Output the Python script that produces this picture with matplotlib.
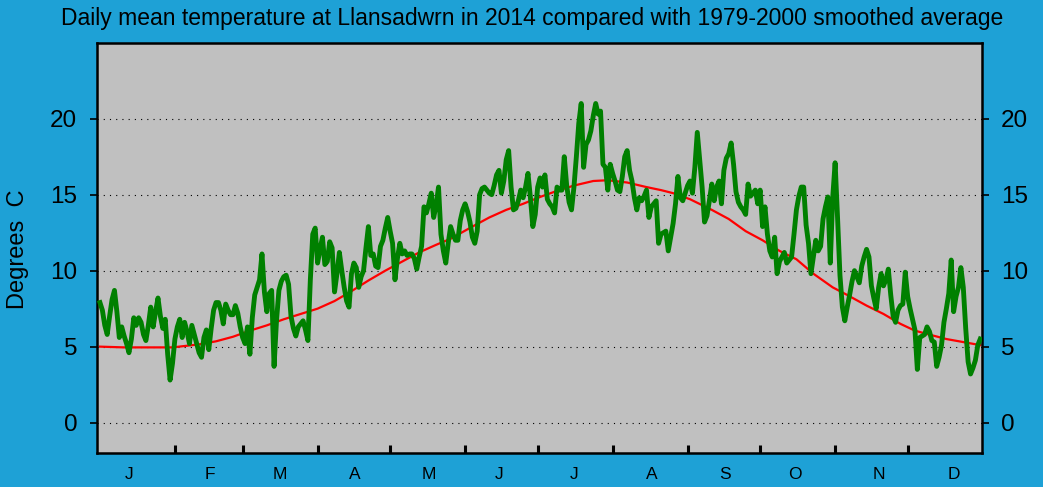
import numpy as np
import matplotlib
matplotlib.use("Agg")
import matplotlib.pyplot as plt

plt.rcParams['font.family'] = ['Liberation Sans', 'DejaVu Sans']

# daily mean temperature 2014, one list per month (deg C)
jan = [7.9, 7.4, 6.4, 5.8, 7.0, 8.1, 8.7, 7.3, 5.6, 6.3, 5.7, 5.2, 4.6, 5.5, 6.9, 6.4,
       6.9, 6.6, 5.8, 5.4, 6.4, 7.6, 6.3, 7.3, 8.2, 7.0, 6.2, 6.8, 4.5, 2.8, 3.9]
feb = [5.5, 6.3, 6.8, 5.6, 6.6, 6.0, 5.2, 6.4, 5.8, 5.2, 4.6, 4.3, 5.6, 6.1, 4.8, 6.2,
       7.4, 7.9, 7.9, 7.4, 6.5, 7.8, 7.4, 7.1, 7.1, 7.7, 7.2, 6.3]
mar = [5.6, 5.2, 6.3, 4.5, 6.9, 8.4, 8.9, 9.4, 11.1, 8.6, 7.3, 8.5, 8.7, 3.7, 6.7, 8.7,
       9.3, 9.6, 9.7, 9.1, 7.0, 6.2, 5.7, 6.3, 6.5, 6.7, 6.1, 5.4, 9.4, 12.4, 12.8]
apr = [10.5, 11.4, 12.2, 10.4, 10.6, 11.9, 11.5, 8.6, 9.8, 11.2, 10.0, 8.9, 8.0, 7.6, 9.8,
       10.5, 10.2, 8.9, 9.6, 10.0, 11.5, 12.9, 11.0, 11.1, 10.3, 10.2, 11.6, 12.0, 12.8, 13.5]
may = [12.6, 11.8, 9.4, 10.8, 11.8, 11.1, 11.3, 11.0, 11.1, 11.1, 10.8, 10.1, 10.9, 11.6,
       14.2, 13.8, 14.4, 15.1, 13.5, 14.3, 15.5, 12.4, 11.3, 10.5, 11.8, 12.9, 12.4, 12.0,
       12.0, 13.3, 14.0]
jun = [14.4, 13.9, 13.2, 12.2, 11.8, 12.6, 15.0, 15.4, 15.5, 15.3, 15.1, 15.0, 15.6, 16.3,
       16.6, 15.1, 15.9, 17.3, 17.9, 15.5, 14.0, 14.1, 14.6, 15.3, 14.8, 15.5, 16.4, 14.8,
       12.9, 13.7]
jul = [15.5, 16.1, 15.5, 16.3, 14.7, 14.4, 14.2, 13.8, 15.5, 15.3, 15.3, 17.5, 15.6, 14.5,
       14.0, 15.5, 17.5, 19.7, 21.0, 16.8, 18.3, 18.6, 19.2, 20.2, 21.0, 20.3, 20.5, 17.0,
       16.8, 15.3, 17.0]
aug = [16.4, 15.9, 15.3, 15.2, 16.2, 17.5, 17.9, 16.6, 15.9, 14.8, 14.0, 14.8, 14.6, 14.9,
       15.3, 13.5, 14.2, 14.4, 14.6, 11.8, 12.4, 12.5, 12.6, 11.3, 12.2, 13.1, 14.4, 16.2,
       14.8, 14.6, 15.1]
sep = [15.6, 15.9, 15.1, 16.8, 19.1, 17.3, 15.5, 13.2, 13.6, 14.6, 15.7, 14.6, 15.5, 15.9,
       14.4, 16.6, 17.4, 17.7, 18.4, 17.0, 15.2, 14.5, 14.2, 14.0, 13.7, 15.7, 14.9, 15.1,
       15.3, 14.4]
oct_ = [15.3, 12.9, 14.2, 12.4, 11.3, 10.9, 12.2, 9.8, 10.6, 10.9, 11.2, 10.5, 10.7, 10.9,
        12.4, 14.0, 14.9, 15.5, 15.5, 13.0, 11.8, 9.8, 10.9, 12.0, 11.3, 11.6, 13.4, 14.2,
        14.85, 10.5, 14.8]
nov = [17.1, 13.5, 9.7, 7.6, 6.7, 7.6, 8.4, 9.3, 10.0, 9.6, 9.2, 10.3, 10.9, 11.4, 10.9,
       9.0, 8.2, 7.5, 8.9, 9.8, 9.0, 9.4, 10.1, 8.4, 7.0, 6.6, 7.4, 7.7, 7.8, 9.9]
dec = [8.3, 7.5, 6.8, 6.1, 3.5, 5.6, 5.7, 5.8, 6.3, 6.0, 5.4, 5.3, 3.7, 4.3, 5.1, 6.6,
       7.5, 8.5, 10.7, 7.3, 8.3, 8.9, 10.2, 8.9, 6.2, 4.0, 3.2, 3.6, 4.1, 5.1, 5.5]

daily = np.array(jan + feb + mar + apr + may + jun + jul + aug + sep + oct_ + nov + dec)
days = np.arange(len(daily))

# 1979-2000 smoothed average, read at these days of the year
avg_days = [0, 10, 20, 30, 41, 48, 55, 62, 69, 76, 83, 90, 97, 104, 111, 118, 125, 132,
            139, 145, 154, 161, 168, 175, 182, 189, 196, 204, 210, 218, 226, 232, 237,
            244, 253, 260, 267, 274, 281, 288, 295, 303, 309, 317, 324, 331, 337, 344,
            350, 357, 364]
avg_vals = [5.0, 4.95, 4.95, 4.95, 5.15, 5.35, 5.65, 6.05, 6.4, 6.8, 7.15, 7.5, 8.0, 8.65,
            9.35, 10.0, 10.6, 11.2, 11.7, 12.1, 12.9, 13.5, 14.0, 14.4, 14.85, 15.25, 15.6,
            15.9, 15.95, 15.8, 15.5, 15.3, 15.1, 14.7, 14.0, 13.4, 12.6, 12.0, 11.3, 10.75,
            9.8, 8.9, 8.4, 7.7, 7.15, 6.5, 6.05, 5.75, 5.5, 5.3, 5.1]

month_starts = [31, 59, 90, 120, 151, 181, 212, 243, 273, 304, 334]
month_mids = [12, 45.5, 74.5, 105.5, 136, 165, 196, 228, 258.5, 287.5, 322, 353]
month_labels = ['J', 'F', 'M', 'A', 'M', 'J', 'J', 'A', 'S', 'O', 'N', 'D']
y_ticks = [0, 5, 10, 15, 20]

bg = '#1EA1D6'
fig = plt.figure(figsize=(10.43, 4.87), dpi=100, facecolor=bg)
ax = fig.add_axes([0.0927, 0.0698, 0.8485, 0.8425])
ax.set_facecolor('#C0C0C0')

for yv in y_ticks:
    ax.axhline(yv, color='black', lw=0.8, dashes=(1, 4.6), zorder=1)

ax.plot(avg_days, avg_vals, color='#FF0000', lw=1.6, zorder=2)
ax.plot(days, daily, color='#008000', lw=3.5, zorder=3, solid_joinstyle='round')

ax.set_xlim(-1.35, 364.6)
ax.set_ylim(-2, 25)

ax.set_yticks(y_ticks)
ax.tick_params(axis='y', left=True, right=True, labelleft=True, labelright=True,
               direction='out', length=5, width=1.2, labelsize=17.5, pad=9)

ax.set_xticks(month_starts)
ax.set_xticklabels([])
ax.tick_params(axis='x', which='major', direction='in', length=6, width=2.2)
ax.set_xticks(month_mids, minor=True)
ax.set_xticklabels(month_labels, minor=True)
ax.tick_params(axis='x', which='minor', length=0, labelsize=12.5, pad=10)

for s in ax.spines.values():
    s.set_linewidth(1.8)
    s.set_color('black')

fig.text(0.51, 1 - 19 / 487, 'Daily mean temperature at Llansadwrn in 2014 compared with 1979-2000 smoothed average',
         ha='center', va='center', fontsize=16.5)
fig.text(18 / 1043, 1 - 249 / 487, 'Degrees  C', rotation=90, ha='center', va='center',
         fontsize=17)

fig.savefig('out.png', dpi=100, facecolor=bg)
